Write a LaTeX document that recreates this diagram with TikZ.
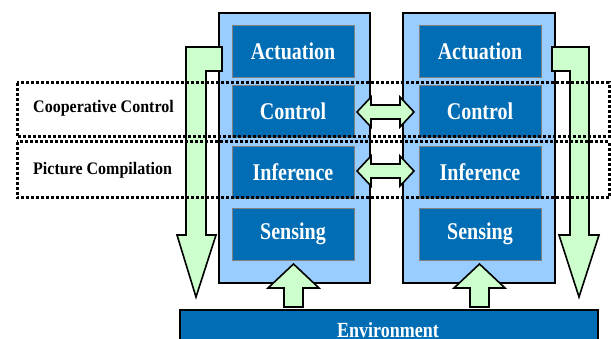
\documentclass[tikz,border=0pt]{standalone}
\usepackage{fontspec}
\setmainfont{Liberation Serif}
\definecolor{lightblue}{HTML}{99CCFF}
\definecolor{darkblue}{HTML}{006DB5}
\definecolor{lightgreen}{HTML}{CCFFCC}
\newcommand{\tallt}[1]{\scalebox{1}[1.2]{#1}}
\begin{document}
\begin{tikzpicture}[x=1pt,y=-1pt,
  outerbox/.style={draw=black,line width=1.6pt,fill=lightblue},
  innerbox/.style={draw=gray,line width=0.5pt,fill=darkblue,text=white,font=\bfseries\fontsize{20}{22}\selectfont},
  greenarrow/.style={draw=black,line width=1.6pt,fill=lightgreen,line join=miter},
  dotbox/.style={draw=black,line width=3pt,dash pattern=on 3pt off 2pt},
  sidelabel/.style={font=\bfseries\fontsize{16}{18}\selectfont,anchor=west,inner sep=0pt}]
\useasboundingbox (0,0) rectangle (611,339);
\clip (0,0) rectangle (611,339);
% outer boxes
\path[outerbox] (219,13) rectangle (370,283);
\path[outerbox] (403,13) rectangle (555,283);
% inner boxes
\foreach \name/\txt/\ya/\yb in {act/Actuation/25/77, con/Control/85/137, inf/Inference/146/198, sen/Sensing/208/260}{
  \node[innerbox,minimum width=122pt,minimum height={(\yb-\ya)*1pt},inner sep=0pt] (L\name) at (293,{(\ya+\yb)/2}) {\tallt{\txt}};
  \node[innerbox,minimum width=122pt,minimum height={(\yb-\ya)*1pt},inner sep=0pt] (R\name) at (480,{(\ya+\yb)/2}) {\tallt{\txt}};
}
% environment
\node[draw=black,line width=1.6pt,fill=darkblue,
  minimum width=418pt,minimum height=40pt,inner sep=0pt,anchor=north west] (env) at (179,309) {};
\node[text=white,font=\bfseries\fontsize{18}{20}\selectfont,inner sep=0pt] (envlabel) at (388,330) {\tallt{Environment}};
% green L arrows
\path[greenarrow] (222,47) -- (186,47) -- (186,235) -- (177,235) -- (196,297) -- (216,235) -- (206,235) -- (206,71) -- (222,71) -- cycle;
\path[greenarrow] (552,47) -- (589,47) -- (589,235) -- (599,235) -- (579,297) -- (559,235) -- (570,235) -- (570,71) -- (552,71) -- cycle;
% up arrows
\path[greenarrow] (284,307) -- (284,288) -- (268,288) -- (293.5,264) -- (319,288) -- (303,288) -- (303,307) -- cycle;
\path[greenarrow] (470,307) -- (470,288) -- (454,288) -- (479.5,264) -- (505,288) -- (489,288) -- (489,307) -- cycle;
% double arrows
\foreach \c in {112,171}{
  \path[greenarrow] (357,\c) -- (371,\c-15) -- (371,\c-7) -- (400,\c-7) -- (400,\c-15) -- (414,\c) -- (400,\c+15) -- (400,\c+7) -- (371,\c+7) -- (371,\c+15) -- cycle;
}
% dotted boxes
\path[dotbox] (17,83) rectangle (609,137);
\path[dotbox] (17,142) rectangle (609,198);
\node[sidelabel] (coop) at (33,108) {\scalebox{1}[1.1]{Cooperative Control}};
\node[sidelabel] (pic) at (33,170) {\scalebox{1}[1.1]{Picture Compilation}};
\end{tikzpicture}
\end{document}
